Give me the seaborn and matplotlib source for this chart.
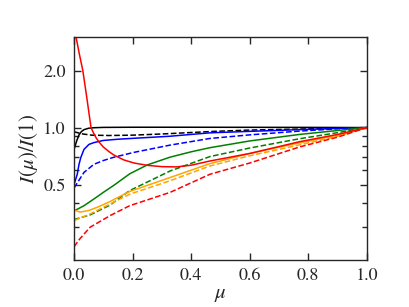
import matplotlib
matplotlib.use("Agg")
import matplotlib.pyplot as plt
import matplotlib.ticker as mticker
import seaborn as sns

# limb darkening profiles
mu_black = [0, 0.009, 0.017, 0.025, 0.034, 0.05, 0.068, 0.1, 0.2, 0.4, 0.6, 0.8, 1.0]
i_black = [0.767, 0.85, 0.915, 0.952, 0.975, 0.992, 0.998, 1.002, 1.004, 1.004, 1.003, 1.002, 1.0]
mu_black_d = [0, 0.03, 0.06, 0.12, 0.2, 0.3, 0.48, 0.6, 0.77, 0.9, 1.0]
i_black_d = [0.95, 0.925, 0.912, 0.908, 0.912, 0.925, 0.955, 0.97, 0.982, 0.992, 1.0]

mu_blue = [0, 0.011, 0.017, 0.023, 0.034, 0.051, 0.068, 0.1, 0.15, 0.205, 0.328, 0.464, 0.6, 0.77, 0.9, 1.0]
i_blue = [0.50, 0.567, 0.64, 0.694, 0.767, 0.815, 0.833, 0.855, 0.868, 0.878, 0.90, 0.938, 0.955, 0.975, 0.99, 1.0]
mu_blue_d = [0, 0.034, 0.068, 0.1, 0.137, 0.205, 0.328, 0.464, 0.6, 0.77, 0.9, 1.0]
i_blue_d = [0.48, 0.58, 0.64, 0.67, 0.698, 0.74, 0.808, 0.876, 0.915, 0.958, 0.985, 1.0]

mu_green = [0, 0.034, 0.068, 0.1, 0.137, 0.19, 0.25, 0.328, 0.4, 0.464, 0.6, 0.77, 0.9, 1.0]
i_green = [0.363, 0.387, 0.42, 0.455, 0.497, 0.57, 0.635, 0.698, 0.745, 0.783, 0.85, 0.92, 0.965, 1.0]
mu_green_d = [0, 0.055, 0.123, 0.19, 0.328, 0.464, 0.6, 0.77, 0.9, 1.0]
i_green_d = [0.327, 0.346, 0.39, 0.465, 0.59, 0.703, 0.78, 0.873, 0.94, 1.0]

mu_orange = [0, 0.02, 0.05, 0.08, 0.12, 0.19, 0.328, 0.464, 0.6, 0.77, 0.9, 1.0]
i_orange = [0.368, 0.358, 0.365, 0.38, 0.405, 0.46, 0.545, 0.645, 0.73, 0.83, 0.91, 1.0]
mu_orange_d = [0, 0.055, 0.123, 0.19, 0.328, 0.464, 0.6, 0.77, 0.9, 1.0]
i_orange_d = [0.323, 0.35, 0.395, 0.445, 0.524, 0.627, 0.71, 0.81, 0.9, 1.0]

mu_red = [0, 0.007, 0.018, 0.03, 0.043, 0.058, 0.066, 0.075, 0.085, 0.1, 0.12, 0.137,
          0.17, 0.205, 0.25, 0.3, 0.35, 0.4, 0.464, 0.6, 0.77, 0.9, 1.0]
i_red = [3.5, 3.0, 2.45, 2.0, 1.46, 1.0, 0.94, 0.885, 0.84, 0.79, 0.745, 0.715,
         0.675, 0.65, 0.632, 0.622, 0.62, 0.633, 0.666, 0.73, 0.842, 0.92, 1.0]
mu_red_d = [0, 0.02, 0.055, 0.123, 0.19, 0.328, 0.464, 0.6, 0.77, 0.9, 1.0]
i_red_d = [0.235, 0.259, 0.298, 0.343, 0.387, 0.455, 0.567, 0.65, 0.79, 0.89, 1.0]

sns.set_style("ticks")
plt.rcParams['font.family'] = ['STIXGeneral', 'DejaVu Serif']
plt.rcParams['mathtext.fontset'] = 'stix'
plt.rcParams['font.size'] = 13

fig = plt.figure(figsize=(4.09, 3.07), dpi=100)
ax = fig.add_axes([0.181, 0.153, 0.716, 0.726])

curves = [
    (mu_black, i_black, 'black', '-'),
    (mu_black_d, i_black_d, 'black', '--'),
    (mu_blue, i_blue, 'blue', '-'),
    (mu_blue_d, i_blue_d, 'blue', '--'),
    (mu_green, i_green, 'green', '-'),
    (mu_green_d, i_green_d, 'green', '--'),
    (mu_orange, i_orange, 'orange', '-'),
    (mu_orange_d, i_orange_d, 'orange', '--'),
    (mu_red, i_red, 'red', '-'),
    (mu_red_d, i_red_d, 'red', '--'),
]
for x, y, c, ls in curves:
    sns.lineplot(x=x, y=y, color=c, linestyle=ls, linewidth=1.1, ax=ax,
                 estimator=None, sort=False)

ax.set_yscale('log')
ax.set_xlim(0, 1)
ax.set_ylim(0.2, 3.0)
ax.set_xticks([0.0, 0.2, 0.4, 0.6, 0.8, 1.0])
ax.xaxis.set_major_formatter(mticker.FormatStrFormatter('%.1f'))
ax.yaxis.set_major_locator(mticker.FixedLocator([0.5, 1.0, 2.0]))
ax.yaxis.set_minor_locator(mticker.FixedLocator([0.3, 0.4, 0.6, 0.7, 0.8, 0.9]))
ax.yaxis.set_major_formatter(mticker.FormatStrFormatter('%.1f'))
ax.yaxis.set_minor_formatter(mticker.NullFormatter())
ax.tick_params(which='both', direction='in', top=True, right=True, width=1.0,
               labelsize=13)
ax.tick_params(which='major', length=5, pad=6)
ax.tick_params(which='minor', length=3.5)
for s in ax.spines.values():
    s.set_linewidth(1.0)

ax.set_xlabel(r'$\mu$', fontsize=15, labelpad=0)
ax.set_ylabel(r'$I(\mu)/I(1)$', fontsize=15, labelpad=2)

fig.savefig('out.png', dpi=100)
